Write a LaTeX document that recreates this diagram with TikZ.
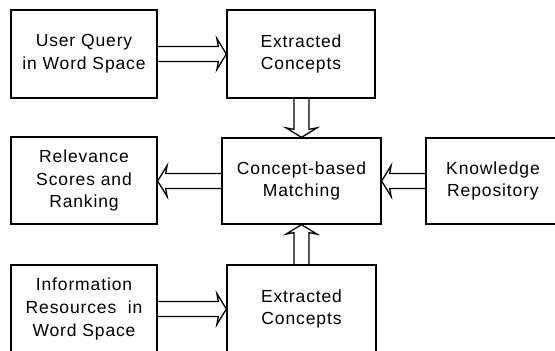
\documentclass[tikz,border=0pt]{standalone}
\usepackage{fontspec}
\setmainfont[LetterSpace=5]{Liberation Sans}
\usetikzlibrary{calc}
\tikzset{
  box/.style={draw, line width=1.3pt, align=center, inner sep=0pt,
    font=\fontsize{17.5}{22.8}\selectfont},
  fat/.style={draw, line width=1.3pt, line join=miter},
}
\newcommand\arrR[2]{\draw[fat] ($(#1)+(0,-7.5)$) -- ($(#2)+(-8,-7.5)$) -- ($(#2)+(-9.5,-15.5)$) -- (#2) -- ($(#2)+(-9.5,15.5)$) -- ($(#2)+(-8,7.5)$) -- ($(#1)+(0,7.5)$);}
\newcommand\arrL[2]{\draw[fat] ($(#1)+(0,-7.5)$) -- ($(#2)+(8,-7.5)$) -- ($(#2)+(9.5,-15.5)$) -- (#2) -- ($(#2)+(9.5,15.5)$) -- ($(#2)+(8,7.5)$) -- ($(#1)+(0,7.5)$);}
\newcommand\arrD[2]{\draw[fat] ($(#1)+(-7.5,0)$) -- ($(#2)+(-7.5,-8)$) -- ($(#2)+(-15.5,-9.5)$) -- (#2) -- ($(#2)+(15.5,-9.5)$) -- ($(#2)+(7.5,-8)$) -- ($(#1)+(7.5,0)$);}
\newcommand\arrU[2]{\draw[fat] ($(#1)+(-7.5,0)$) -- ($(#2)+(-7.5,8)$) -- ($(#2)+(-15.5,9.5)$) -- (#2) -- ($(#2)+(15.5,9.5)$) -- ($(#2)+(7.5,8)$) -- ($(#1)+(7.5,0)$);}
\begin{document}
\begin{tikzpicture}[x=1pt,y=-1pt]
\useasboundingbox (0,0) rectangle (555,351);
\node[box, minimum width=146pt, minimum height=88pt] (uq) at (84,54) {User Query\\in Word Space};
\node[box, minimum width=148pt, minimum height=88pt] (ec1) at (301,54) {Extracted\\Concepts};
\node[box, minimum width=146pt, minimum height=87pt] (rel) at (84,180.5) {Relevance\\Scores and\\Ranking};
\node[box, minimum width=159pt, minimum height=86pt] (cm) at (301.5,181) {Concept-based\\Matching};
\node[box, minimum width=134pt, minimum height=86pt] (kr) at (493,181) {Knowledge\\Repository};
\node[box, minimum width=146pt, minimum height=88pt] (ir) at (84,309) {Information\\Resources\ \ in\\Word Space};
\node[box, minimum width=149pt, minimum height=88pt] (ec2) at (301.5,309) {Extracted\\Concepts};
\arrR{uq.east}{uq.east -| ec1.west}
\arrD{ec1.south -| cm.north}{cm.north}
\arrL{cm.west}{cm.west -| rel.east}
\arrL{kr.west}{kr.west -| cm.east}
\arrR{ir.east}{ir.east -| ec2.west}
\arrU{ec2.north}{ec2.north |- cm.south}
\end{tikzpicture}
\end{document}
